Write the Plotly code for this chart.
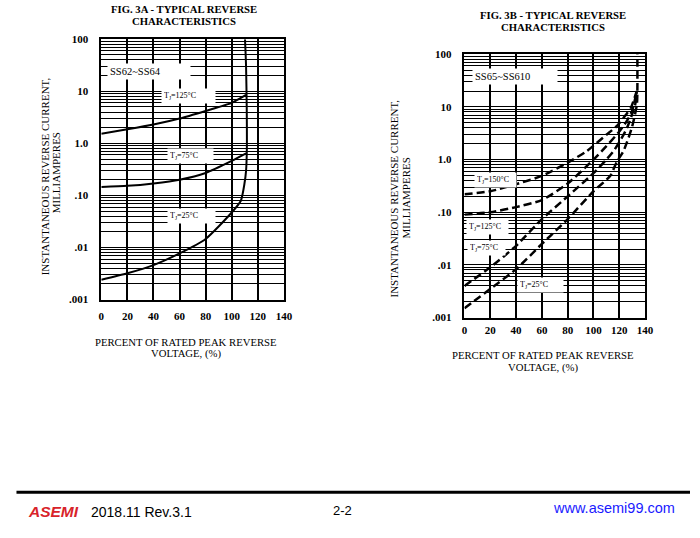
import plotly.graph_objects as go

W, H = 700, 538

# FIG. 3A  SS62~SS64  (percent of rated Vrrm -> reverse current, mA)
pct_a_125 = [0, 20, 40, 60, 80, 100, 111]
ir_a_125 = [1.53, 1.86, 2.3, 3.0, 4.2, 6.0, 8.5]
pct_a_75 = [0, 20, 40, 60, 80, 100, 111]
ir_a_75 = [0.146, 0.153, 0.17, 0.2, 0.27, 0.46, 0.64]
pct_a_25 = [0, 20, 40, 60, 80, 100, 107, 109.7, 111, 111.6, 111.5, 111, 110.2]
ir_a_25 = [0.0024, 0.0032, 0.0046, 0.0077, 0.0146, 0.047, 0.079, 0.164, 0.3, 0.8, 5, 30, 100]

# FIG. 3B  SS65~SS610
pct_b_150 = [0, 20, 40, 60, 80, 95, 110, 118, 125, 129, 133.5]
ir_b_150 = [0.22, 0.25, 0.34, 0.49, 0.87, 1.46, 2.95, 4.3, 7.0, 9.6, 20]
pct_b_125 = [0, 20, 40, 60, 80, 100, 110, 120, 126, 130, 133.5]
ir_b_125 = [0.09, 0.1, 0.125, 0.17, 0.35, 1.0, 1.8, 3.4, 5.5, 8.5, 20]
pct_b_75 = [0, 20, 40, 60, 80, 100, 110, 116, 122, 126, 132.3, 133.5]
ir_b_75 = [0.004, 0.009, 0.023, 0.074, 0.2, 0.55, 1.0, 1.5, 2.6, 4.0, 11, 20]
pct_b_25 = [0, 20, 40, 60, 80, 100, 113, 118, 123.3, 129.7, 133.6, 134, 134]
ir_b_25 = [0.0015, 0.0035, 0.0083, 0.025, 0.074, 0.25, 0.49, 0.9, 1.46, 4, 11, 20, 100]

x_ticks = [0, 20, 40, 60, 80, 100, 120, 140]
y_ticks = [0.001, 0.01, 0.1, 1, 10, 100]
y_ticktext = [".001", ".01", ".10", "1.0", "10", "100"]

SERIF = "Liberation Serif"

# positions below are measured on the reference page; the photo of the page
# comes out slightly shrunk, so undo that here
SX, OX = 0.985, 1.5
SY, OY = 0.98, 4.7


def px(x):
    return (x - OX) / SX / W


def py(y):
    return 1 - (y - OY) / SY / H


fig = go.Figure()

solid = dict(color="black", width=2)
for xs, ys in [(pct_a_125, ir_a_125), (pct_a_75, ir_a_75), (pct_a_25, ir_a_25)]:
    fig.add_trace(go.Scatter(x=xs, y=ys, mode="lines", line=dict(shape="spline", smoothing=0.6, **solid),
                             xaxis="x", yaxis="y", hoverinfo="skip"))

dashed = dict(color="black", width=2.5, dash="8px,4px")
for xs, ys in [(pct_b_150, ir_b_150), (pct_b_125, ir_b_125), (pct_b_75, ir_b_75), (pct_b_25, ir_b_25)]:
    fig.add_trace(go.Scatter(x=xs, y=ys, mode="lines", line=dict(shape="spline", smoothing=0.6, **dashed),
                             xaxis="x2", yaxis="y2", hoverinfo="skip"))

tickfont = dict(family=SERIF, size=11, color="black", weight="bold")


def xax(domain, anchor, ticklen):
    return dict(domain=domain, anchor=anchor, range=[0, 140], tickvals=x_ticks,
                showgrid=True, gridcolor="black", gridwidth=1.6, zeroline=False,
                showline=True, linecolor="black", linewidth=1.5, mirror=True,
                ticks="outside", ticklen=ticklen, tickcolor="rgba(0,0,0,0)",
                tickfont=tickfont, fixedrange=True)


def yax(domain, anchor):
    return dict(domain=domain, anchor=anchor, type="log", range=[-3, 2],
                tickvals=y_ticks, ticktext=y_ticktext,
                showgrid=True, gridcolor="black", gridwidth=1.2, zeroline=False,
                minor=dict(dtick="D1", showgrid=True, gridcolor="black", gridwidth=1),
                showline=True, linecolor="black", linewidth=1.5, mirror=True,
                ticks="outside", ticklen=9, tickcolor="rgba(0,0,0,0)",
                tickfont=tickfont, fixedrange=True)


fig.update_layout(
    width=W, height=H, margin=dict(l=0, r=0, t=0, b=0),
    paper_bgcolor="white", plot_bgcolor="white", showlegend=False,
    xaxis=xax([px(100), px(283)], "y", 5),
    yaxis=yax([py(299), py(38)], "x"),
    xaxis2=xax([px(464), px(645)], "y2", 1),
    yaxis2=yax([py(317), py(53)], "x2"),
)

ann = []


def text(x, y, s, size=10, bold=False, angle=0, color="black", family=SERIF, xanchor="center", italic=False):
    font = dict(family=family, size=size, color=color)
    if bold:
        font["weight"] = "bold"
    if italic:
        font["style"] = "italic"
    ann.append(dict(x=px(x), y=py(y), xref="paper", yref="paper", text=s, showarrow=False,
                    font=font, textangle=angle, xanchor=xanchor, yanchor="middle"))


def label(x, y, s, w, size=8):
    ann.append(dict(x=px(x), y=py(y), xref="paper", yref="paper", text=s, showarrow=False,
                    font=dict(family=SERIF, size=size, color="black"), bgcolor="white",
                    width=w, align="left", xanchor="left", yanchor="middle", borderpad=2))


# titles
text(183, 8, "FIG. 3A - TYPICAL REVERSE", size=10.7, bold=True)
text(183, 20, "CHARACTERISTICS", size=10.7, bold=True)
text(553, 13.5, "FIG. 3B - TYPICAL REVERSE", size=10.7, bold=True)
text(553, 25.5, "CHARACTERISTICS", size=10.7, bold=True)

# axis titles
text(185, 341.5, "PERCENT OF RATED PEAK REVERSE", size=10.7)
text(185, 353, "VOLTAGE, (%)", size=10.7)
text(543, 355, "PERCENT OF RATED PEAK REVERSE", size=10.7)
text(543, 367, "VOLTAGE, (%)", size=10.7)
text(43, 175, "INSTANTANEOUS REVERSE CURRENT,", size=11, angle=-90)
text(55, 172, "MILLIAMPERES", size=11, angle=-90)
text(393, 198, "INSTANTANEOUS REVERSE CURRENT,", size=11, angle=-90)
text(405, 197, "MILLIAMPERES", size=11, angle=-90)

# in-plot labels
label(106, 70, "SS62~SS64", 78, size=10.5)
label(160, 95, "T<sub>J</sub>=125°C", 49)
label(166, 155, "T<sub>J</sub>=75°C", 41)
label(166, 215, "T<sub>J</sub>=25°C", 43)

label(472, 75, "SS65~SS610", 80, size=10.5)
label(474, 179, "T<sub>J</sub>=150°C", 37)
label(466, 226, "T<sub>J</sub>=125°C", 37)
label(467, 247, "T<sub>J</sub>=75°C", 33)
label(517, 284, "T<sub>J</sub>=25°C", 41)

# footer
text(25, 511, "ASEMI", size=15.5, bold=True, italic=True, color="#d8232a", family="Liberation Sans", xanchor="left")
text(88, 512, "2018.11 Rev.3.1", size=14, family="Liberation Sans", xanchor="left")
text(342, 510, "2-2", size=13, family="Liberation Sans")
text(677, 508, "www.asemi99.com", size=14.5, color="#1a1aff", family="Liberation Sans", xanchor="right")

fig.update_layout(annotations=ann)
fig.add_shape(type="line", xref="paper", yref="paper", x0=px(15), x1=px(690), y0=py(492), y1=py(492),
              line=dict(color="black", width=3))

fig.write_html("out.html", config={"displayModeBar": False},
               post_script="document.body.style.margin = '0px';")
